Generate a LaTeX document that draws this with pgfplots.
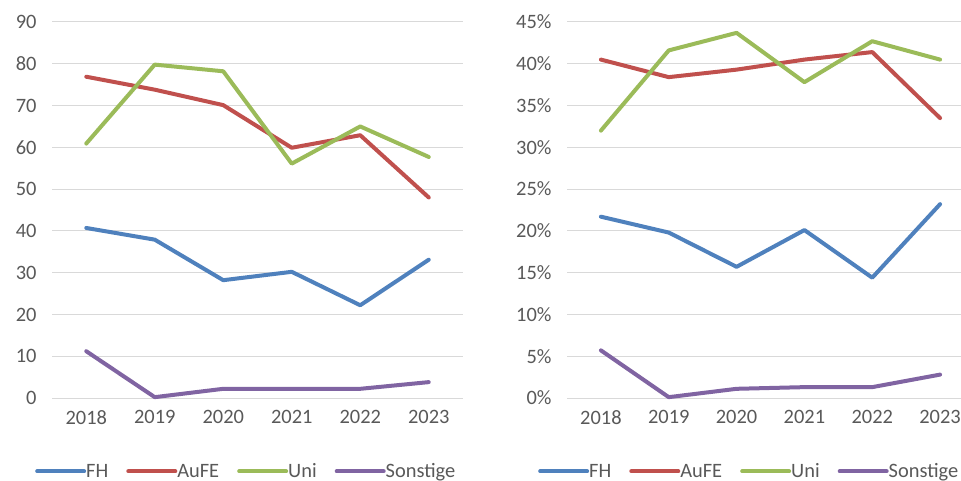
\documentclass[border=0pt]{standalone}
\usepackage{pgfplots}
\pgfplotsset{compat=1.18}
\usepackage{fontspec}
\setmainfont{Carlito}

\definecolor{exblue}{HTML}{4F81BD}
\definecolor{exred}{HTML}{C0504D}
\definecolor{exgreen}{HTML}{9BBB59}
\definecolor{expurple}{HTML}{8064A2}
\definecolor{txtgray}{HTML}{595959}
\definecolor{gridgray}{HTML}{D9D9D9}

\pgfplotsset{
  excel/.style={
    scale only axis,
    height=376bp,
    xmin=-0.5, xmax=5.5,
    xtick={0,1,2,3,4,5},
    xticklabels={2018,2019,2020,2021,2022,2023},
    axis line style={draw=none},
    tick style={draw=none},
    ymajorgrids,
    major grid style={gridgray, line width=1bp},
    font=\fontsize{20.5}{24}\selectfont,
    tick label style={txtgray},
    /pgf/number format/assume math mode=true,
    yticklabel style={xshift=-12bp},
    xticklabel style={yshift=-9bp},
    legend columns=4,
    legend style={draw=none, fill=none, inner sep=0pt, text=txtgray,
      font=\fontsize{20.5}{24}\selectfont,
      nodes={inner sep=0pt},
      /tikz/every odd column/.append style={column sep=0bp},
      /tikz/every even column/.append style={column sep=18bp}},
    legend image code/.code={\draw[#1] (0bp,0bp) -- (47bp,0bp);},
    every axis plot/.append style={line width=4bp, line join=round, line cap=round},
    clip=false,
  }
}

\begin{document}
\begin{tikzpicture}
\useasboundingbox (0,0) rectangle (961bp,481bp);

% left panel: counts
\begin{axis}[excel, at={(52bp,83bp)}, width=411bp,
  ymin=0, ymax=90, ytick={0,10,...,90},
  legend style={at={(-0.0414,-0.195)}, anchor=west}]
\addplot[exblue] coordinates {(0,40.7) (1,37.9) (2,28.2) (3,30.2) (4,22.2) (5,33.1)};
\addplot[exred] coordinates {(0,76.9) (1,73.8) (2,70.1) (3,59.9) (4,62.9) (5,48.0)};
\addplot[exgreen] coordinates {(0,60.9) (1,79.8) (2,78.2) (3,56.1) (4,65.0) (5,57.7)};
\addplot[expurple] coordinates {(0,11.2) (1,0.2) (2,2.2) (3,2.2) (4,2.2) (5,3.8)};
\legend{FH,AuFE,Uni,Sonstige}
\end{axis}

% right panel: shares
\begin{axis}[excel, at={(567bp,83bp)}, width=407bp,
  ymin=0, ymax=45, ytick={0,5,...,45},
  yticklabel={\pgfmathprintnumber{\tick}\%},
  legend style={at={(-0.0713,-0.195)}, anchor=west}]
\addplot[exblue] coordinates {(0,21.7) (1,19.8) (2,15.7) (3,20.1) (4,14.4) (5,23.2)};
\addplot[exred] coordinates {(0,40.5) (1,38.4) (2,39.3) (3,40.5) (4,41.4) (5,33.5)};
\addplot[exgreen] coordinates {(0,32.0) (1,41.6) (2,43.7) (3,37.8) (4,42.7) (5,40.5)};
\addplot[expurple] coordinates {(0,5.7) (1,0.1) (2,1.1) (3,1.3) (4,1.3) (5,2.8)};
\legend{FH,AuFE,Uni,Sonstige}
\end{axis}
\end{tikzpicture}
\end{document}
